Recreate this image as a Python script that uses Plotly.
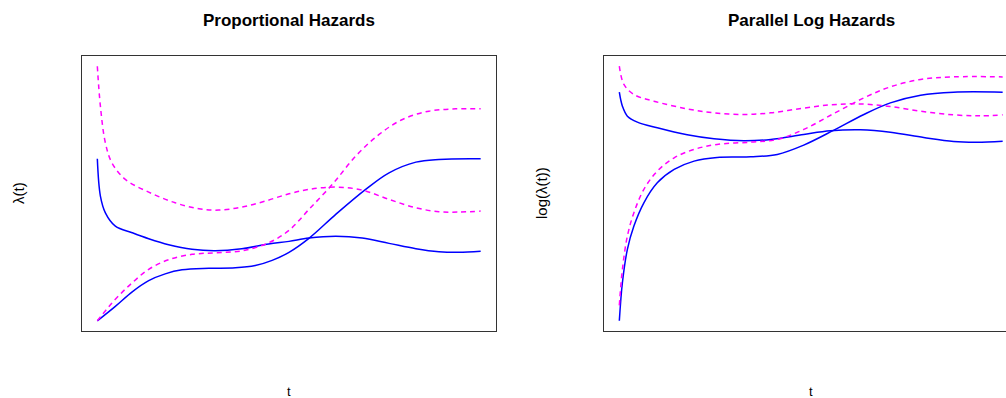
import plotly.graph_objects as go

# ---------------- data ----------------
# Left panel: hazard lambda(t)
t_ph_a = [0, 0.08, 0.21, 0.47, 0.91, 1.34, 1.86, 2.47, 3.08, 3.77, 4.47, 5.0, 5.52, 6.22, 6.91, 7.61, 8.31, 8.91, 9.43, 10.0]
ph_blue_a = [1.621, 1.248, 1.081, 0.948, 0.881, 0.821, 0.761, 0.715, 0.701, 0.721, 0.768, 0.795, 0.828, 0.845, 0.828, 0.775, 0.721, 0.691, 0.685, 0.695]

t_ph_b = [0, 0.47, 0.91, 1.34, 1.77, 2.21, 2.91, 3.60, 4.12, 4.56, 5.0, 5.52, 6.22, 7.0, 7.61, 8.31, 8.91, 10.0]
ph_blue_b = [0.0, 0.145, 0.290, 0.402, 0.470, 0.510, 0.525, 0.530, 0.553, 0.605, 0.685, 0.825, 1.065, 1.315, 1.481, 1.588, 1.615, 1.621]

t_ph_c = [0, 0.08, 0.21, 0.38, 0.73, 1.34, 2.03, 2.65, 3.17, 3.77, 4.38, 5.0, 5.52, 6.22, 6.91, 7.61, 8.31, 8.91, 9.43, 10.0]
ph_mag_a = [2.548, 2.148, 1.781, 1.581, 1.415, 1.288, 1.181, 1.121, 1.108, 1.138, 1.198, 1.271, 1.315, 1.338, 1.308, 1.215, 1.131, 1.091, 1.088, 1.098]

t_ph_d = [0, 0.47, 0.91, 1.34, 1.86, 2.47, 3.08, 3.77, 4.47, 5.0, 5.52, 6.13, 6.74, 7.35, 7.96, 8.65, 9.35, 10.0]
ph_mag_b = [0.0, 0.215, 0.381, 0.515, 0.612, 0.665, 0.681, 0.700, 0.781, 0.905, 1.115, 1.365, 1.648, 1.865, 2.015, 2.098, 2.121, 2.121]

# Right panel: log hazard log(lambda(t))
t_lh_a = [0, 0.08, 0.21, 0.47, 0.99, 1.77, 2.47, 3.25, 3.95, 4.81, 5.51, 6.29, 7.07, 7.94, 8.72, 9.33, 10.0]
lh_blue_a = [-0.712, -0.852, -0.952, -1.012, -1.069, -1.139, -1.179, -1.199, -1.185, -1.135, -1.099, -1.089, -1.112, -1.165, -1.205, -1.212, -1.202]

t_lh_b = [0, 0.08, 0.21, 0.38, 0.64, 0.99, 1.43, 1.95, 2.55, 3.43, 4.12, 4.81, 5.60, 6.38, 7.07, 7.86, 8.72, 10.0]
lh_blue_b = [-3.0, -2.619, -2.285, -2.052, -1.819, -1.619, -1.485, -1.402, -1.365, -1.359, -1.335, -1.242, -1.092, -0.935, -0.819, -0.742, -0.712, -0.712]

t_lh_c = [0, 0.12, 0.38, 0.90, 1.77, 2.47, 3.25, 3.95, 4.77, 5.51, 6.20, 6.99, 7.86, 8.72, 9.42, 10.0]
lh_mag_a = [-0.452, -0.635, -0.735, -0.802, -0.879, -0.919, -0.935, -0.919, -0.874, -0.839, -0.829, -0.852, -0.902, -0.939, -0.949, -0.939]

t_lh_d = [0, 0.08, 0.21, 0.38, 0.64, 0.99, 1.43, 1.95, 2.55, 3.43, 4.12, 4.81, 5.60, 6.38, 7.07, 7.86, 8.72, 10.0]
lh_mag_b = [-2.845, -2.485, -2.152, -1.919, -1.685, -1.502, -1.369, -1.285, -1.235, -1.212, -1.185, -1.085, -0.925, -0.769, -0.659, -0.585, -0.559, -0.559]

titles = ["Proportional Hazards", "Parallel Log Hazards"]
ylabels = ["λ(t)", "log(λ(t))"]
xlabel = "t"

# ---------------- figure ----------------
W, H = 1006, 398
FONT = "Liberation Sans, Arial, Helvetica, sans-serif"
BLUE = "#0000FF"
MAG = "#FF00FF"
DASH = "5px,4px"

fig = go.Figure()

def add(x, y, color, dash, xa, ya):
    fig.add_trace(go.Scatter(
        x=x, y=y, mode="lines", xaxis=xa, yaxis=ya, showlegend=False,
        line=dict(color=color, width=1.5, dash=dash, shape="spline", smoothing=1.0),
        hoverinfo="skip"))

add(t_ph_a, ph_blue_a, BLUE, "solid", "x", "y")
add(t_ph_b, ph_blue_b, BLUE, "solid", "x", "y")
add(t_ph_c, ph_mag_a, MAG, DASH, "x", "y")
add(t_ph_d, ph_mag_b, MAG, DASH, "x", "y")

add(t_lh_a, lh_blue_a, BLUE, "solid", "x2", "y2")
add(t_lh_b, lh_blue_b, BLUE, "solid", "x2", "y2")
add(t_lh_c, lh_mag_a, MAG, DASH, "x2", "y2")
add(t_lh_d, lh_mag_b, MAG, DASH, "x2", "y2")

y_dom = [(H - 331) / H, (H - 56) / H]
left_dom = [82 / W, 496 / W]
right_dom = [604 / W, 1.0]

ax_common = dict(showgrid=False, zeroline=False, showticklabels=False, ticks="",
                 showline=True, linecolor="#333333", linewidth=1)

def pad(lo, hi):
    d = (hi - lo) * 0.04
    return [lo - d, hi + d]

xr = pad(0, 10)
units_per_px = (xr[1] - xr[0]) / 414.0
xr2 = [xr[0], xr[0] + units_per_px * (W - 604)]

yr1 = pad(min(ph_blue_a + ph_blue_b + ph_mag_a + ph_mag_b), max(ph_blue_a + ph_blue_b + ph_mag_a + ph_mag_b))
yr2 = pad(min(lh_blue_a + lh_blue_b + lh_mag_a + lh_mag_b), max(lh_blue_a + lh_blue_b + lh_mag_a + lh_mag_b))

fig.update_layout(
    width=W, height=H,
    margin=dict(l=0, r=0, t=0, b=0),
    paper_bgcolor="white", plot_bgcolor="white",
    xaxis=dict(domain=left_dom, range=xr, anchor="y", mirror=True, **ax_common),
    yaxis=dict(domain=y_dom, range=yr1, anchor="x", mirror=True, **ax_common),
    xaxis2=dict(domain=right_dom, range=xr2, anchor="y2", mirror=True, **ax_common),
    yaxis2=dict(domain=y_dom, range=yr2, anchor="x2", mirror=False, **ax_common),
)

centers = [289 / W, 811 / W]
ylab_x = [18 / W, 541 / W]
for i in range(2):
    fig.add_annotation(text="<b>%s</b>" % titles[i], x=centers[i], y=1 - 20 / H,
                       xref="paper", yref="paper", showarrow=False,
                       xanchor="center", yanchor="middle",
                       font=dict(family=FONT, size=17, color="black"))
    fig.add_annotation(text=xlabel, x=centers[i], y=1 - 391 / H,
                       xref="paper", yref="paper", showarrow=False,
                       xanchor="center", yanchor="middle",
                       font=dict(family=FONT, size=13, color="black"))
    fig.add_annotation(text=ylabels[i], x=ylab_x[i], y=1 - 193 / H,
                       xref="paper", yref="paper", showarrow=False, textangle=-90,
                       xanchor="center", yanchor="middle",
                       font=dict(family=FONT, size=15, color="black"))

fig.write_html("out.html")
